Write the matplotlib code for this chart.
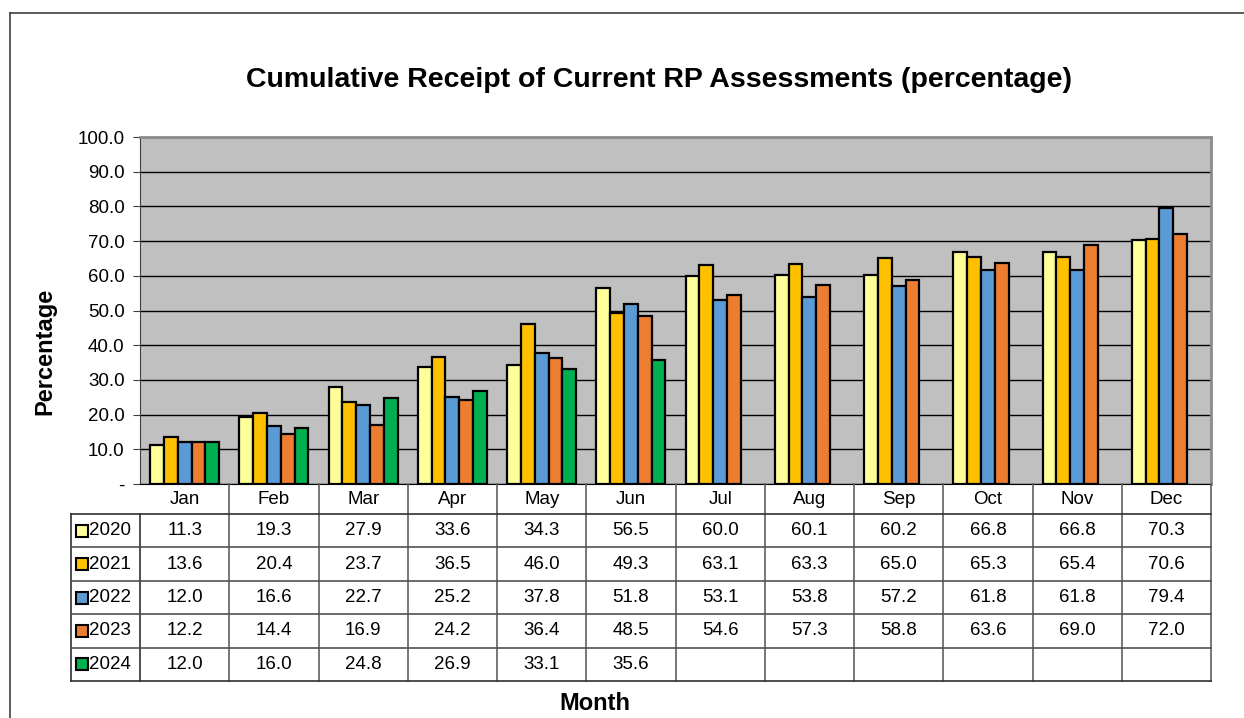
import matplotlib
matplotlib.use("Agg")
import matplotlib.pyplot as plt
from matplotlib.lines import Line2D

plt.rcParams.update({
    'font.family': ['Liberation Sans', 'DejaVu Sans'],
    'font.size': 13,
})

months = ['Jan', 'Feb', 'Mar', 'Apr', 'May', 'Jun', 'Jul', 'Aug', 'Sep', 'Oct', 'Nov', 'Dec']
years = ['2020', '2021', '2022', '2023', '2024']
v2020 = [11.3, 19.3, 27.9, 33.6, 34.3, 56.5, 60.0, 60.1, 60.2, 66.8, 66.8, 70.3]
v2021 = [13.6, 20.4, 23.7, 36.5, 46.0, 49.3, 63.1, 63.3, 65.0, 65.3, 65.4, 70.6]
v2022 = [12.0, 16.6, 22.7, 25.2, 37.8, 51.8, 53.1, 53.8, 57.2, 61.8, 61.8, 79.4]
v2023 = [12.2, 14.4, 16.9, 24.2, 36.4, 48.5, 54.6, 57.3, 58.8, 63.6, 69.0, 72.0]
v2024 = [12.0, 16.0, 24.8, 26.9, 33.1, 35.6]
series = [v2020, v2021, v2022, v2023, v2024]
colors = ['#FFFF99', '#FFC000', '#5B9BD5', '#ED7D31', '#00B050']
yticks = [0, 10, 20, 30, 40, 50, 60, 70, 80, 90, 100]

W, H = 1244, 718
def fx(x): return x / W
def fy(y): return 1 - y / H

fig = plt.figure(figsize=(W / 100, H / 100), dpi=100)

# outer chart border (left and top visible)
fig.add_artist(Line2D([fx(10), fx(10)], [fy(13), 0], color='#404040', lw=1.2))
fig.add_artist(Line2D([fx(10), 1], [fy(13), fy(13)], color='#404040', lw=1.2))

ax = fig.add_axes([fx(140), fy(484), fx(1211) - fx(140), fy(137) - fy(484)])
ax.set_facecolor('#C0C0C0')
bw = 0.155
for i, (vals, c) in enumerate(zip(series, colors)):
    xs = [k + (i - 2) * bw for k in range(len(vals))]
    ax.bar(xs, vals, width=bw, color=c, edgecolor='black', linewidth=1.6, zorder=3)
ax.set_xlim(-0.5, 11.5)
ax.set_ylim(0, 100)
ax.set_yticks(yticks)
ax.set_yticklabels(['-' if t == 0 else f'{t:.1f}' for t in yticks], fontsize=13.5)
ax.set_xticks([])
ax.grid(axis='y', color='black', lw=1, zorder=1)
ax.tick_params(axis='y', length=5, color='#404040', pad=6)
ax.spines['left'].set_color('#404040')
ax.spines['bottom'].set_color('black')
ax.spines['top'].set_color('#8C8C8C')
ax.spines['right'].set_color('#8C8C8C')
ax.spines['top'].set_linewidth(2)
ax.spines['right'].set_linewidth(2)

# data table under the chart
tb = fig.add_axes([fx(71), fy(681), fx(1211) - fx(71), fy(484) - fy(681)])
lab_w = 0.775
tb.set_xlim(-0.5 - lab_w, 11.5)
tb.set_ylim(5, -0.9)
tb.axis('off')
lc = '#303030'
for k, m in enumerate(months):
    tb.text(k, -0.45, m, ha='center', va='center', fontsize=13.5)
for k in range(13):
    x = k - 0.5
    tb.plot([x, x], [-0.9 if k > 0 else 0, 5], color='#606060' if k > 0 else lc, lw=1.2,
            clip_on=False)
tb.plot([-0.5 - lab_w] * 2, [0, 5], color=lc, lw=1.2, clip_on=False)
for r in range(6):
    tb.plot([-0.5 - lab_w, 11.5], [r, r], color=lc if r in (0, 5) else '#505050', lw=1.2,
            clip_on=False)
for r, (yr, vals, c) in enumerate(zip(years, series, colors)):
    yc = r + 0.5
    tb.plot(-0.5 - lab_w + 0.12, yc, marker='s', ms=8, mfc=c, mec='black', mew=1.5)
    tb.text(-0.5 - lab_w + 0.2, yc, yr, ha='left', va='center', fontsize=13.5)
    for k, v in enumerate(vals):
        tb.text(k, yc, f'{v:.1f}', ha='center', va='center', fontsize=13.5)

fig.text(fx(659), fy(80), 'Cumulative Receipt of Current RP Assessments (percentage)',
         ha='center', va='center', fontsize=20.5, fontweight='bold')
fig.text(fx(45), fy(351), 'Percentage', ha='center', va='center', rotation=90,
         fontsize=17, fontweight='bold')
fig.text(fx(595), fy(703), 'Month', ha='center', va='center', fontsize=17, fontweight='bold')

fig.savefig('out.png', dpi=100)
